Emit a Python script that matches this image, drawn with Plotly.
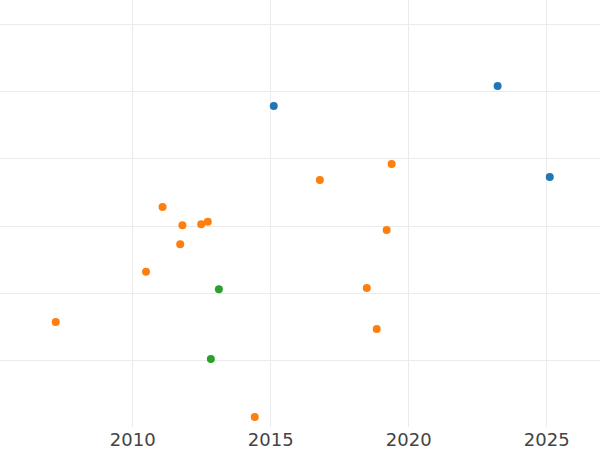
import plotly.graph_objects as go

blue_x = [2015.11, 2023.22, 2025.11]
blue_y = [57.91, 60.90, 47.31]

orange_x = [2011.08, 2011.80, 2012.48, 2012.72, 2011.72, 2010.48, 2007.21,
            2016.78, 2019.38, 2019.20, 2018.48, 2018.84, 2014.42]
orange_y = [42.84, 40.10, 40.25, 40.65, 37.26, 33.18, 25.67,
            46.87, 49.25, 39.40, 30.75, 24.63, 11.49]

green_x = [2013.12, 2012.83]
green_y = [30.55, 20.15]

x_ticks = [2010, 2015, 2020, 2025]

fig = go.Figure()
for xs, ys, c in [(blue_x, blue_y, "#1f77b4"),
                  (orange_x, orange_y, "#ff7f0e"),
                  (green_x, green_y, "#2ca02c")]:
    fig.add_trace(go.Scatter(x=xs, y=ys, mode="markers",
                             marker=dict(color=c, size=8, line=dict(width=0)),
                             showlegend=False))

fig.update_layout(
    width=600, height=450,
    margin=dict(l=0, r=0, t=0, b=23),
    paper_bgcolor="white", plot_bgcolor="white",
    font=dict(family="DejaVu Sans", size=18, color="#444"),
    showlegend=False,
)
fig.update_xaxes(range=[2005.19, 2026.93], tickvals=x_ticks,
                 showgrid=True, gridcolor="#ebebeb", gridwidth=1,
                 zeroline=False, showline=False, ticks="")
fig.update_yaxes(range=[10.0, 73.73], tickvals=[20, 30, 40, 50, 60, 70],
                 showticklabels=False,
                 showgrid=True, gridcolor="#ebebeb", gridwidth=1,
                 zeroline=False, showline=False, ticks="")

fig.write_html("out.html", config={"displayModeBar": False},
               post_script="document.body.style.margin='0';document.body.style.overflow='hidden';")
